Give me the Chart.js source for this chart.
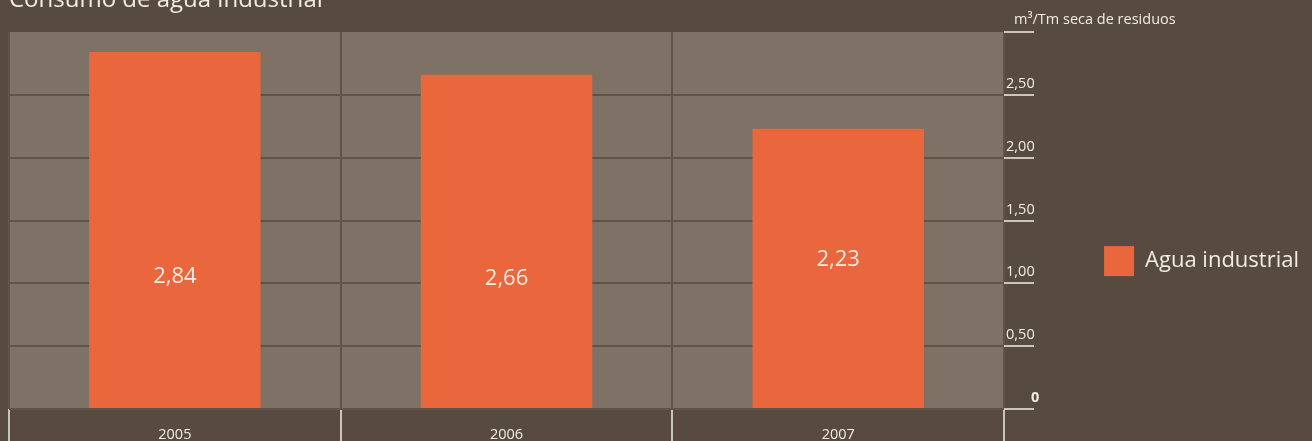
<!DOCTYPE html>
<html>
<head>
<meta charset="utf-8">
<script src="https://cdn.jsdelivr.net/npm/chart.js@4"></script>
<style>
    html, body { margin: 0; padding: 0; background: #574b3f; }
    #wrap { width: 1312px; height: 441px; }
</style>
</head>
<body>
<div id="wrap"><canvas id="barChart"></canvas></div>
<script>
// datos
const years = ["2005", "2006", "2007"];
const consumo = [2.84, 2.66, 2.23];
const valueLabels = ["2,84", "2,66", "2,23"];
const labelAt = [1.05, 1.04, 1.19]; // altura (en m3/Tm) donde va el texto dentro de la barra
const yTicks = [0, 0.5, 1, 1.5, 2, 2.5, 3];
const yTickText = ["0", "0,50", "1,00", "1,50", "2,00", "2,50", ""];
const unidad = "m³/Tm seca de residuos";

const FONT = "'Open Sans', 'Noto Sans', sans-serif";
const TXT = "#f1ece5";
const GRID = "#5f5447";

// fondo del area de grafico
const plotBg = {
    id: "plotBg",
    beforeDraw(chart) {
        const a = chart.chartArea;
        const ctx = chart.ctx;
        ctx.save();
        ctx.fillStyle = "#7d7265";
        ctx.fillRect(a.left, a.top, a.right - a.left, a.bottom - a.top);
        ctx.restore();
    },
};

// valores dentro de las barras + unidad del eje
const barValues = {
    id: "barValues",
    afterDatasetsDraw(chart) {
        const ctx = chart.ctx;
        const y = chart.scales.y;
        ctx.save();
        ctx.fillStyle = TXT;
        ctx.font = "22px " + FONT;
        ctx.textAlign = "center";
        ctx.textBaseline = "middle";
        chart.getDatasetMeta(0).data.forEach((bar, i) => {
            ctx.fillText(valueLabels[i], bar.x, y.getPixelForValue(labelAt[i]));
        });
        // unidad encima del ultimo tick
        ctx.font = "14.5px " + FONT;
        ctx.textAlign = "left";
        ctx.fillText(unidad, y.left + 10, y.getPixelForValue(3) - 12);
        ctx.restore();
    },
};

new Chart(document.getElementById("barChart").getContext("2d"), {
    type: "bar",
    data: {
        labels: years,
        datasets: [
            {
                label: "Agua industrial",
                data: consumo,
                backgroundColor: "#ea663d",
                borderWidth: 0,
                categoryPercentage: 1,
                barPercentage: 0.517,
            },
        ],
    },
    options: {
        responsive: true,
        maintainAspectRatio: false,
        animation: false,
        layout: { padding: { left: 9, top: 0, right: 3, bottom: 0 } },
        scales: {
            x: {
                border: { display: false },
                grid: {
                    offset: true,
                    color: GRID,
                    lineWidth: 2,
                    tickColor: TXT,
                    tickWidth: 1.5,
                    tickLength: 32,
                },
                ticks: {
                    color: TXT,
                    font: { family: FONT, size: 14.5 },
                    padding: -15,
                },
                afterFit(scale) {
                    scale.height = 32;
                },
            },
            y: {
                position: "right",
                min: 0,
                max: 3,
                border: { display: false },
                afterBuildTicks(scale) {
                    scale.ticks = yTicks.map((v) => ({ value: v }));
                },
                grid: {
                    color: (c) => (c.tick && c.tick.value === 3 ? "transparent" : GRID),
                    lineWidth: 2,
                    tickColor: TXT,
                    tickWidth: 1.5,
                    tickLength: 30,
                },
                ticks: {
                    color: TXT,
                    padding: -28,
                    labelOffset: -11,
                    font: (c) => ({
                        family: FONT,
                        size: 14.5,
                        weight: c.tick && c.tick.value === 0 ? "bold" : "normal",
                    }),
                    callback: (value) => {
                        const i = yTicks.indexOf(value);
                        if (value === 0) return "\u2007\u2007\u2007" + yTickText[i];
                        return yTickText[i];
                    },
                },
                afterFit(scale) {
                    scale.width = 90;
                },
            },
        },
        plugins: {
            title: {
                display: true,
                text: "Consumo de agua industrial",
                align: "start",
                color: TXT,
                font: { family: FONT, size: 24, weight: "normal" },
                padding: { top: -14.4, bottom: 17.6 },
            },
            legend: {
                position: "right",
                title: {
                    display: true,
                    text: " ",
                    font: { size: 1 },
                    padding: { top: 80, bottom: 0 },
                },
                labels: {
                    color: TXT,
                    boxWidth: 30,
                    boxHeight: 30,
                    font: { family: FONT, size: 22 },
                },
            },
            tooltip: { enabled: false },
        },
    },
    plugins: [plotBg, barValues],
});
</script>
</body>
</html>
